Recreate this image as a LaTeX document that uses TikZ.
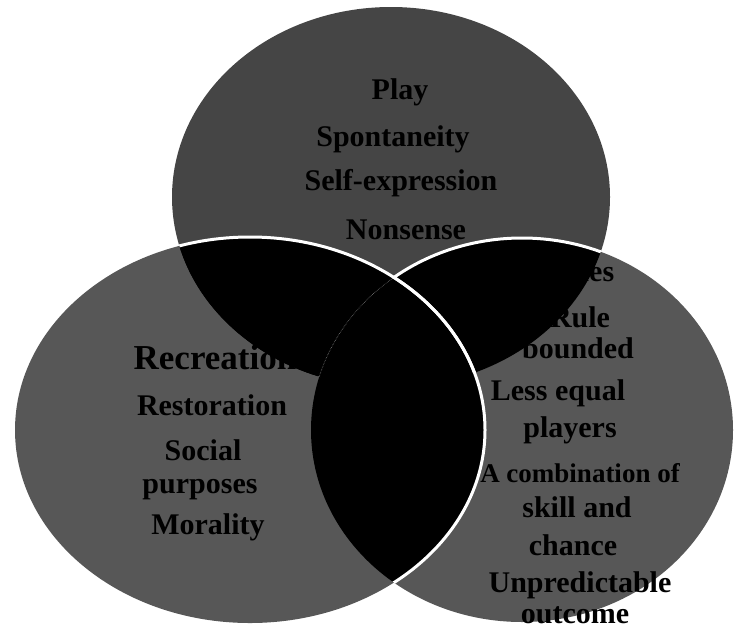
\documentclass[tikz,border=0pt]{standalone}
\usepackage{fontspec}
\setmainfont{Liberation Serif}
\definecolor{topgray}{gray}{0.27}
\definecolor{sidegray}{gray}{0.34}
\tikzset{
  lbl/.style={font=\bfseries\fontsize{30}{30}\selectfont, inner sep=0pt, text=black},
  rim/.style={draw=white, line width=3pt},
  topring/.style={insert path={(391,197) ellipse [x radius=219pt, y radius=190pt]}},
  leftring/.style={insert path={(250,430) ellipse [x radius=235pt, y radius=193pt]}},
  rightring/.style={insert path={(522,430) ellipse [x radius=211pt, y radius=192pt]}}
}
\begin{document}
\begin{tikzpicture}[x=1pt,y=-1pt]
\useasboundingbox (0,0) rectangle (735,632);
% the three sets
\fill[topgray] [topring];
\fill[sidegray] [leftring];
\fill[sidegray] [rightring];
% labels, top set
\node[lbl] (play) at (400,92) {Play};
\node[lbl] (spont) at (393,139) {Spontaneity};
\node[lbl] (selfexp) at (401,183) {Self-expression};
\node[lbl] (nonsense) at (406,230) {Nonsense};
% labels, left set
\node[lbl, font=\bfseries\fontsize{35}{35}\selectfont] (recreation) at (215,358) {Recreation};
\node[lbl] (restoration) at (212,405) {Restoration};
\node[lbl] (social) at (203,450) {Social};
\node[lbl] (purposes) at (200,490) {purposes};
\node[lbl] (morality) at (208,527) {Morality};
% labels, right set
\node[lbl] (games) at (570,272) {Games};
\node[lbl] (rule) at (580,317) {Rule};
\node[lbl] (bounded) at (578,348) {bounded};
\node[lbl] (lessequal) at (558,393) {Less equal};
\node[lbl] (players) at (570,430) {players};
\node[lbl, font=\bfseries\fontsize{27}{27}\selectfont] (combo) at (580,473) {A combination of};
\node[lbl] (skill) at (577,507) {skill and};
\node[lbl] (chance) at (573,545) {chance};
\node[lbl] (unpred) at (580,585) {Unpredictable};
\node[lbl] (outcome) at (575,615) {outcome};
% overlaps
\begin{scope}
\clip[topring];
\fill[black] [leftring];
\fill[black] [rightring];
\end{scope}
\begin{scope}
\clip[leftring];
\fill[black] [rightring];
\end{scope}
% white rims
\begin{scope}
\clip[topring];
\draw[rim] [rightring];
\fill[black] [leftring];
\end{scope}
\begin{scope}
\clip[topring];
\clip[leftring];
\draw[gray, densely dotted, line width=0.6pt] [rightring];
\end{scope}
\begin{scope}
\clip[topring];
\draw[rim] [leftring];
\end{scope}
\begin{scope}
\clip[rightring];
\draw[rim] [leftring];
\end{scope}
\end{tikzpicture}
\end{document}
